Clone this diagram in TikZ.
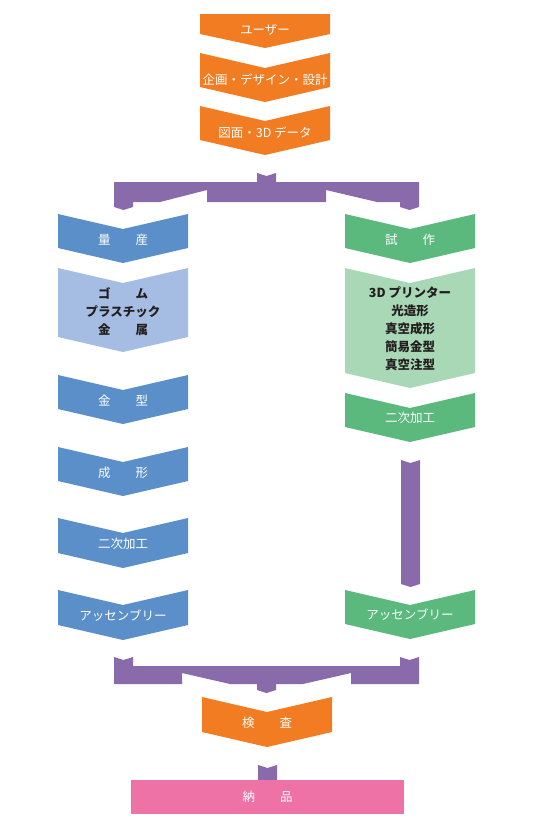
\documentclass[tikz,border=0pt]{standalone}
\usepackage{fontspec}
\newfontfamily\jp{Noto Sans CJK JP}
\usepackage{tikz}
\definecolor{orng}{HTML}{F27C21}
\definecolor{blu}{HTML}{5B8FC9}
\definecolor{lblu}{HTML}{A5BDE2}
\definecolor{grn}{HTML}{5BB97E}
\definecolor{lgrn}{HTML}{A9D8B7}
\definecolor{purp}{HTML}{896AAA}
\definecolor{pnk}{HTML}{EE72A6}
\definecolor{ink}{HTML}{231F20}
% chevron: centre x, top y, corner y, colour
\newcommand{\chev}[4]{\fill[#4] (#1-65,#2)--(#1,#2+15)--(#1+65,#2)--(#1+65,#3)--(#1,#3+15)--(#1-65,#3)--cycle;}

\begin{document}
\begin{tikzpicture}[x=1pt,y=-1pt,
wt/.style={text=white,font=\jp\fontsize{12.5}{14}\selectfont},
dk/.style={text=ink,font=\jp\bfseries\fontsize{12.5}{18}\selectfont,align=center}]
\useasboundingbox (0,0) rectangle (534,825);
% top
\fill[orng](200,14)--(330,14)--(330,34)--(265,48)--(200,34)--cycle;
\chev{265}{53}{87}{orng}
\chev{265}{106}{140}{orng}
\node[wt] (user) at (265,30) {ユーザー};
\node[wt] (kikaku) at (265,80) {企画・デザイン・設計};
\node[wt] (zumen) at (265,133) {図面・3D データ};
% split
\fill[purp](257,173)--(266.5,176)--(276,173)--(276,182)--(419,182)--(419,207)--(409.5,210)--(400,207)--(400,202)
--(377,202)--(326,190)--(326,202)--(207,202)--(207,190)--(160,202)--(133,202)--(133,207)--(123.5,210)--(114,207)
--(114,182)--(257,182)--cycle;
% mass production
\chev{123}{214}{248}{blu}
\chev{123}{268}{337}{lblu}
\chev{123}{375}{409}{blu}
\chev{123}{447}{481}{blu}
\chev{123}{518}{553}{blu}
\chev{123}{590}{625}{blu}
\node[wt] (ryosan) at (123,240) {量　　産};
\node[dk] (zairyo) at (123,312) {ゴ　　ム\\プラスチック\\金　　属};
\node[wt] (kanagata) at (123,401) {金　　型};
\node[wt] (seikei) at (123,473) {成　　形};
\node[wt] (niji1) at (123,544) {二次加工};
\node[wt] (assy1) at (123,616) {アッセンブリー};
% prototype
\chev{410}{214}{248}{grn}
\chev{410}{268}{373}{lgrn}
\chev{410}{393}{427}{grn}
\chev{410}{590}{624}{grn}
\node[wt] (shisaku) at (410,240) {試　　作};
\node[dk] (koho) at (410,329) {3D プリンター\\光造形\\真空成形\\簡易金型\\真空注型};
\node[wt] (niji2) at (410,418) {二次加工};
\node[wt] (assy2) at (410,615) {アッセンブリー};
\fill[purp](401,460)--(410.5,463)--(420,460)--(420,584)--(410.5,587)--(401,584)--cycle;
% join
\fill[purp](114,657)--(123.5,660)--(133,657)--(133,666)--(400,666)--(400,657)--(409.5,660)--(419,657)--(419,684)
--(351,684)--(351,673)--(303,684)--(276,684)--(276,690)--(266.5,693)--(257,690)--(257,684)--(230,684)--(182,673)
--(182,684)--(114,684)--cycle;
\chev{267}{697}{732}{orng}
\node[wt] (kensa) at (267,723) {検　　査};
\fill[purp](258,765)--(267.5,768)--(277,765)--(277,781)--(258,781)--cycle;
\node[wt,fill=pnk,minimum width=273,minimum height=34,inner sep=0] (nohin) at (267.5,797) {納　　品};
\end{tikzpicture}
\end{document}
